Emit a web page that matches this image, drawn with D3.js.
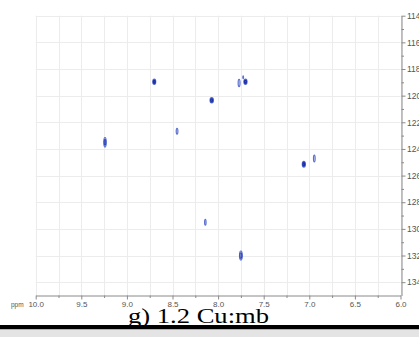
<!DOCTYPE html>
<html>
<head>
<meta charset="utf-8">
<script src="https://cdn.jsdelivr.net/npm/d3@7"></script>
<style>
  html, body { margin: 0; padding: 0; background: #fff; }
  svg { display: block; }
</style>
</head>
<body>
<svg id="chart" width="419" height="337"></svg>
<script>
// 1H (x) and 15N (y) chemical shifts of the cross peaks, in ppm
const peakH   = [8.70, 8.07, 7.77, 7.70, 7.725, 9.24, 8.45, 7.06, 6.945, 8.14, 7.75];
const peakN   = [118.95, 120.34, 119.05, 118.95, 118.62, 123.5, 122.67, 125.15, 124.72, 129.5, 132.0];
// half line widths of each peak, in ppm
const peakWH  = [0.016, 0.018, 0.010, 0.017, 0.004, 0.013, 0.009, 0.017, 0.009, 0.008, 0.015];
const peakWN  = [0.20, 0.20, 0.28, 0.20, 0.10, 0.36, 0.22, 0.22, 0.25, 0.22, 0.34];
// number of contour levels above the base threshold
const peakLevels = [3, 3, 1, 3, 1, 2, 1, 3, 1, 1, 2];

const hTicks = [10.0, 9.5, 9.0, 8.5, 8.0, 7.5, 7.0, 6.5, 6.0];
const nTicks = [114, 116, 118, 120, 122, 124, 126, 128, 130, 132, 134];
const caption = "g) 1.2 Cu:mb";

const svg = d3.select("#chart");
const W = 419, H = 337;

const x = d3.scaleLinear().domain([10, 6]).range([35.7, 400.5]);
const y = d3.scaleLinear().domain([114, 135]).range([15.7, 295.5]);

// grid
const grid = svg.append("g").attr("stroke", "#ececec").attr("stroke-width", 1);
const hMinor = d3.range(10, 5.99, -0.25);
grid.selectAll("line.v").data(hMinor).join("line")
  .attr("x1", d => Math.round(x(d)) + 0.5).attr("x2", d => Math.round(x(d)) + 0.5)
  .attr("y1", y(114)).attr("y2", y(135));
grid.selectAll("line.h").data(nTicks).join("line")
  .attr("x1", x(10)).attr("x2", x(6))
  .attr("y1", d => Math.round(y(d)) + 0.5).attr("y2", d => Math.round(y(d)) + 0.5);

// contours
const blues = ["#5a6fd0", "#2f45b8", "#1a2ca0"];
const peaks = peakH.map((h, i) => ({h, n: peakN[i], wh: peakWH[i], wn: peakWN[i], lv: peakLevels[i]}));
const pg = svg.append("g").attr("fill", "none");
peaks.forEach(p => {
  for (let k = 0; k < p.lv; k++) {
    const f = 1 - k / (p.lv + 0.6);
    const rx = Math.abs(x(p.h + p.wh) - x(p.h)) * f;
    const ry = Math.abs(y(p.n + p.wn) - y(p.n)) * f;
    pg.append("ellipse")
      .attr("cx", x(p.h)).attr("cy", y(p.n))
      .attr("rx", rx).attr("ry", ry)
      .attr("stroke", blues[Math.min(k, 2)])
      .attr("stroke-width", 1.2);
  }
});

// right (15N) axis
const right = svg.append("g").attr("transform", `translate(${x(6) + 1},0)`);
right.call(d3.axisRight(y).tickValues(nTicks).tickSize(4).tickPadding(1.5).tickSizeOuter(0));
right.append("g").call(d3.axisRight(y).tickValues(d3.range(115, 135, 2)).tickSize(2.5).tickFormat("").tickSizeOuter(0))
  .select(".domain").remove();
right.selectAll("text").attr("font-family", "Liberation Sans, Arial, sans-serif").attr("font-size", 8.5).attr("fill", "#555");

// bottom (1H) axis
const bottom = svg.append("g").attr("transform", `translate(0,${y(135)})`);
bottom.call(d3.axisBottom(x).tickValues(hTicks).tickSize(4).tickPadding(1.5).tickFormat(d3.format(".1f")).tickSizeOuter(0));
bottom.append("g").call(d3.axisBottom(x).tickValues(d3.range(9.75, 6.1, -0.5)).tickSize(2.5).tickFormat("").tickSizeOuter(0))
  .select(".domain").remove();
bottom.selectAll("text").attr("font-family", "Liberation Sans, Arial, sans-serif").attr("font-size", 8).attr("fill", "#555");
svg.selectAll(".domain, .tick line").attr("stroke", "#8a8a8a");

svg.append("text")
  .attr("x", 11).attr("y", y(135) + 11.2)
  .attr("font-family", "Liberation Sans, Arial, sans-serif").attr("font-size", 6.5).attr("fill", "#555")
  .text("ppm");

// caption and rule below
svg.append("text")
  .attr("x", 128).attr("y", 322.5)
  .attr("font-family", "Liberation Serif, Times New Roman, serif").attr("font-size", 21)
  .attr("textLength", 141).attr("lengthAdjust", "spacingAndGlyphs")
  .attr("fill", "#000")
  .text(caption);

svg.append("rect").attr("x", 0).attr("y", 325).attr("width", W).attr("height", 4.5).attr("fill", "#000");
svg.append("rect").attr("x", 0).attr("y", 329.5).attr("width", W).attr("height", H - 329.5).attr("fill", "#e4e4e4");
</script>
</body>
</html>
